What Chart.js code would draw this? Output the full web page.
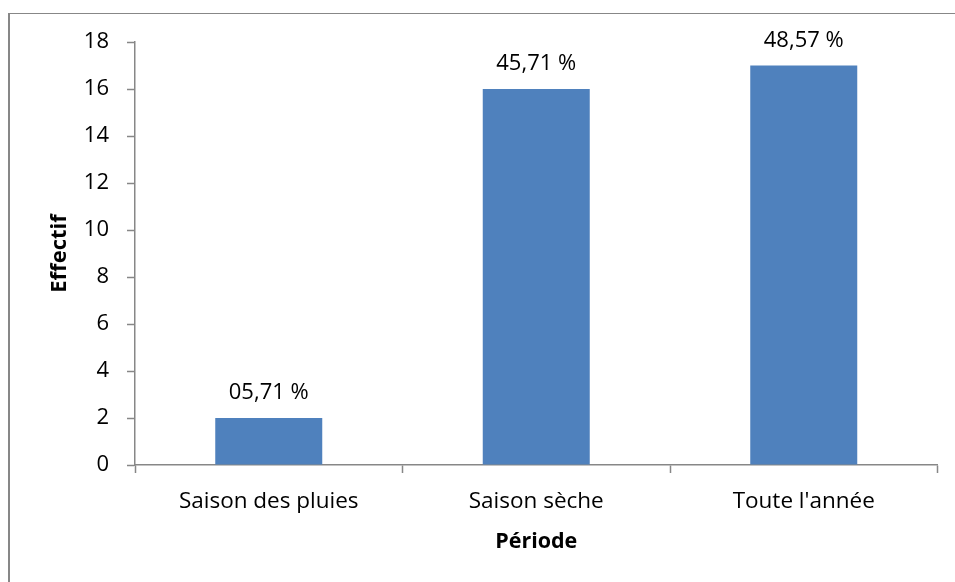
<!DOCTYPE html>
<html>
<head>
<meta charset="utf-8">
<script src="https://cdn.jsdelivr.net/npm/chart.js@4"></script>
<style>
  html, body { margin: 0; padding: 0; background: #fff; }
  #wrap { position: relative; width: 955px; height: 582px; overflow: hidden; }
  #frame {
    position: absolute; left: 8px; top: 13px; width: 1000px; height: 700px;
    border-left: 2px solid #878787; border-top: 1.5px solid #878787;
  }
  canvas { position: absolute; left: 0; top: 0; }
</style>
</head>
<body>
<div id="wrap">
  <div id="frame"></div>
  <canvas id="chart" width="955" height="582"></canvas>
</div>
<script>
// Effectif par période
const periodes = ["Saison des pluies", "Saison sèche", "Toute l'année"]
const effectifs = [2, 16, 17]
const pourcentages = ["05,71 %", "45,71 %", "48,57 %"]
const yTicks = [0, 2, 4, 6, 8, 10, 12, 14, 16, 18]

const FONT = "'Open Sans', Lato, sans-serif"
const AXIS_GREY = "#878787"

// percentage text above each bar
const barLabels = {
  id: "barLabels",
  afterDatasetsDraw(chart) {
    const ctx = chart.ctx
    const meta = chart.getDatasetMeta(0)
    ctx.save()
    ctx.font = "22px " + FONT
    ctx.fillStyle = "#000"
    ctx.textAlign = "center"
    ctx.textBaseline = "middle"
    meta.data.forEach((bar, i) => {
      const { x, y } = bar.getProps(["x", "y"], true)
      ctx.fillText(pourcentages[i], x, y - 25)
    })
    ctx.restore()
  }
}

new Chart(document.getElementById("chart"), {
  type: "bar",
  data: {
    labels: periodes,
    datasets: [{
      data: effectifs,
      backgroundColor: "#4F81BD",
      borderWidth: 0,
      categoryPercentage: 1,
      barPercentage: 0.4,
    }]
  },
  options: {
    responsive: false,
    animation: false,
    events: [],
    layout: { padding: { top: 42, right: 17.5, left: 0, bottom: 0 } },
    plugins: {
      legend: { display: false },
      tooltip: { enabled: false },
    },
    scales: {
      x: {
        grid: {
          display: true,
          drawOnChartArea: false,
          offset: true,
          tickLength: 8,
          tickColor: AXIS_GREY,
          tickWidth: 1.5,
        },
        border: { display: true, color: AXIS_GREY, width: 1.5 },
        ticks: {
          font: { family: FONT, size: 22.5 },
          color: "#000",
          padding: 15,
          maxRotation: 0,
        },
        title: {
          display: true,
          text: "Période",
          font: { family: FONT, size: 21.5, weight: "bold" },
          color: "#000",
          padding: { top: 0, bottom: 27 },
        },
        afterFit(scale) { scale.height = 117 },
      },
      y: {
        min: 0,
        max: 18,
        afterBuildTicks(scale) { scale.ticks = yTicks.map(v => ({ value: v })) },
        grid: {
          display: true,
          drawOnChartArea: false,
          tickLength: 8,
          tickColor: AXIS_GREY,
          tickWidth: 1.5,
        },
        border: { display: true, color: AXIS_GREY, width: 1.5 },
        ticks: {
          font: { family: FONT, size: 22 },
          color: "#000",
          padding: 18,
        },
        title: {
          display: true,
          text: "Effectif",
          font: { family: FONT, size: 22, weight: "bold" },
          color: "#000",
          padding: { top: 47, bottom: 0 },
        },
        afterFit(scale) { scale.width = 135 },
      }
    }
  },
  plugins: [barLabels]
})
</script>
</body>
</html>
